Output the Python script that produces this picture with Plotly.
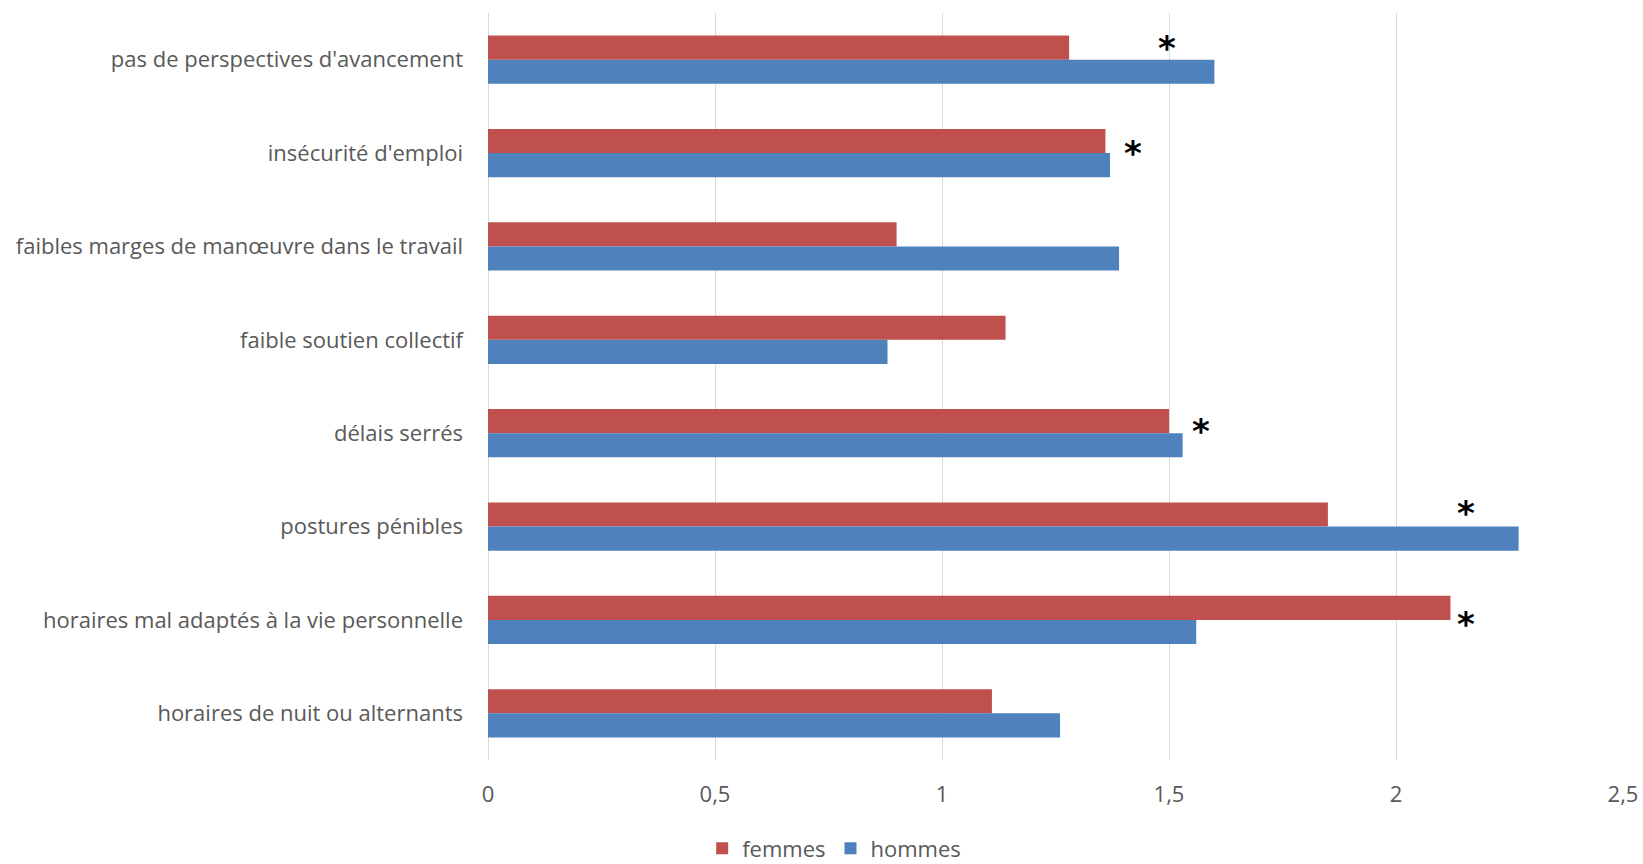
import plotly.graph_objects as go

categories = [
    "pas de perspectives d'avancement",
    "insécurité d'emploi",
    "faibles marges de manœuvre dans le travail",
    "faible soutien collectif",
    "délais serrés",
    "postures pénibles",
    "horaires mal adaptés à la vie personnelle",
    "horaires de nuit ou alternants",
]
femmes = [1.28, 1.36, 0.90, 1.14, 1.50, 1.85, 2.12, 1.11]
hommes = [1.60, 1.37, 1.39, 0.88, 1.53, 2.27, 1.56, 1.26]

star_categories = [
    "pas de perspectives d'avancement",
    "insécurité d'emploi",
    "délais serrés",
    "postures pénibles",
    "horaires mal adaptés à la vie personnelle",
]
star_x = [1.495, 1.42, 1.57, 2.155, 2.155]
star_offset_px = [-14.7, -3.1, -4.7, -16.7, 1.3]

RED = "#C0504D"
BLUE = "#4F81BD"
FONT = "Open Sans"

fig = go.Figure()
fig.add_trace(go.Bar(y=categories, x=femmes, name="femmes", orientation="h",
                     marker=dict(color=RED, line=dict(width=0))))
fig.add_trace(go.Bar(y=categories, x=hommes, name="hommes", orientation="h",
                     marker=dict(color=BLUE, line=dict(width=0))))

for c, x, d in zip(star_categories, star_x, star_offset_px):
    fig.add_annotation(x=x, y=c, xref="x", yref="y", text="<b>*</b>", showarrow=False,
                       font=dict(family="DejaVu Sans", size=34, color="black"),
                       yshift=-(d + 3))

fig.update_layout(
    width=1643, height=864,
    paper_bgcolor="white", plot_bgcolor="white",
    barmode="group", bargap=0.484, bargroupgap=0,
    separators=", ",
    margin=dict(l=488, r=20, t=13, b=104, autoexpand=False),
    font=dict(family=FONT, color="#595959", size=22),
    showlegend=True,
    legend=dict(orientation="h", x=0.305, xanchor="center",
                yref="container", y=0.018, yanchor="middle",
                font=dict(family=FONT, size=22, color="#595959"),
                itemwidth=30, traceorder="normal"),
    xaxis=dict(range=[0, 2.5], dtick=0.5, tick0=0, showgrid=True, automargin=False,
               gridcolor="#D9D9D9", gridwidth=1.3, zeroline=True, zerolinecolor="#D9D9D9",
               zerolinewidth=1.3, showline=False, ticks="", ticklabelstandoff=19,
               tickfont=dict(family=FONT, size=22, color="#595959")),
    yaxis=dict(autorange="reversed", showgrid=False, showline=False, ticks="",
               automargin=False, ticklabelstandoff=24,
               tickfont=dict(family=FONT, size=22, color="#595959")),
)

fig.write_html("out.html")
